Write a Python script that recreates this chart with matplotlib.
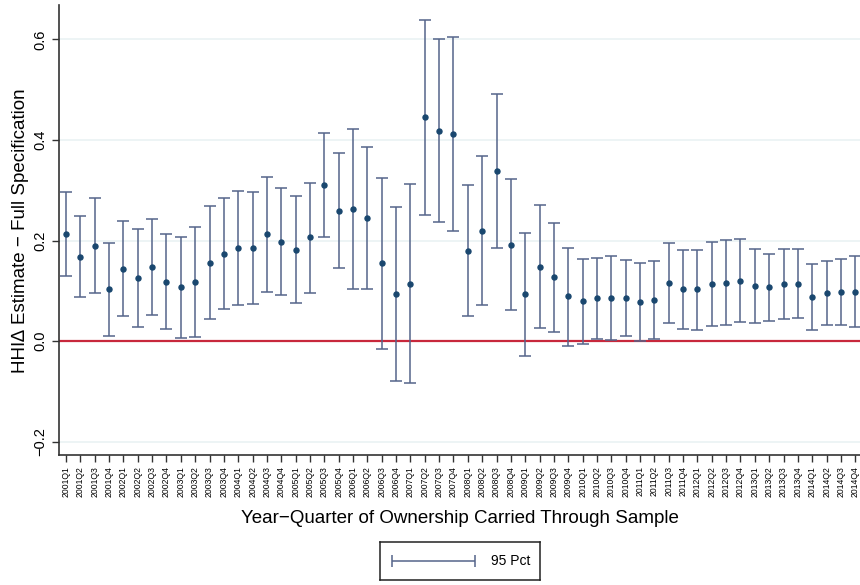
import matplotlib
matplotlib.use("Agg")
import matplotlib.pyplot as plt
import numpy as np

plt.rcParams["font.family"] = ["Liberation Sans", "DejaVu Sans"]

# quarter labels 2001Q1 .. 2014Q4
quarters = [f"{y}Q{q}" for y in range(2001, 2015) for q in range(1, 5)]

estimate = [0.213, 0.168, 0.190, 0.103, 0.144, 0.125, 0.147, 0.118,
            0.107, 0.117, 0.155, 0.174, 0.185, 0.185, 0.213, 0.198,
            0.181, 0.206, 0.310, 0.259, 0.262, 0.245, 0.156, 0.093,
            0.113, 0.445, 0.418, 0.411, 0.180, 0.219, 0.339, 0.192,
            0.093, 0.148, 0.127, 0.089, 0.080, 0.086, 0.086, 0.086,
            0.077, 0.082, 0.115, 0.103, 0.103, 0.113, 0.116, 0.120,
            0.110, 0.107, 0.114, 0.114, 0.088, 0.095, 0.097, 0.098]
upper = [0.296, 0.249, 0.285, 0.195, 0.238, 0.222, 0.243, 0.213,
         0.207, 0.226, 0.268, 0.285, 0.299, 0.297, 0.327, 0.304,
         0.288, 0.315, 0.413, 0.374, 0.421, 0.386, 0.325, 0.266,
         0.312, 0.638, 0.600, 0.604, 0.310, 0.368, 0.492, 0.322,
         0.214, 0.270, 0.235, 0.186, 0.164, 0.166, 0.170, 0.161,
         0.155, 0.159, 0.196, 0.182, 0.182, 0.197, 0.201, 0.202,
         0.183, 0.173, 0.183, 0.183, 0.153, 0.159, 0.163, 0.169]
lower = [0.130, 0.087, 0.096, 0.011, 0.050, 0.028, 0.052, 0.024,
         0.007, 0.009, 0.044, 0.063, 0.071, 0.073, 0.098, 0.091,
         0.075, 0.095, 0.206, 0.145, 0.104, 0.104, -0.015, -0.080,
         -0.084, 0.251, 0.237, 0.219, 0.050, 0.071, 0.186, 0.062,
         -0.029, 0.025, 0.018, -0.009, -0.005, 0.005, 0.002, 0.011,
         0.000, 0.005, 0.035, 0.023, 0.022, 0.030, 0.032, 0.037,
         0.036, 0.039, 0.044, 0.046, 0.022, 0.031, 0.032, 0.028]

bar_col = "#55658a"
dot_col = "#1a476f"

fig = plt.figure(figsize=(8.6, 5.85), dpi=100)
ax = fig.add_axes([0.0686, 0.222, 0.9314, 0.769])

x = np.arange(len(quarters))
est = np.array(estimate)
yerr = [est - np.array(lower), np.array(upper) - est]

for gy in [-0.2, 0.2, 0.4, 0.6]:
    ax.axhline(gy, color="#eaf2f3", lw=1.2, zorder=0)
ax.axhline(0, color="#c8283c", lw=1.6, zorder=1)

ax.errorbar(x, est, yerr=yerr, fmt="none", ecolor=bar_col, elinewidth=1.1,
            capsize=4, capthick=1.1, zorder=2)
ax.plot(x, est, "o", color=dot_col, ms=3.6, zorder=3)

ax.set_xlim(-0.49, 55.33)
ax.set_ylim(-0.227, 0.668)
ax.set_xticks(x)
ax.set_xticklabels(quarters, rotation=90, fontsize=6.2)
ax.set_yticks([-0.2, 0.0, 0.2, 0.4, 0.6])
ax.set_yticklabels(["\u22120.2", "0.0", "0.2", "0.4", "0.6"], fontsize=10.5)
for lab in ax.get_yticklabels():
    lab.set_rotation(90)
    lab.set_va("center")
ax.tick_params(axis="both", color="#333333", length=5, width=1)
ax.tick_params(axis="x", pad=3)

for s in ["top", "right"]:
    ax.spines[s].set_visible(False)
for s in ["left", "bottom"]:
    ax.spines[s].set_color("#333333")
    ax.spines[s].set_linewidth(1.2)

ax.set_ylabel("HHI\u2206 Estimate \u2212 Full Specification", fontsize=13.5, labelpad=3)
ax.set_xlabel("Year\u2212Quarter of Ownership Carried Through Sample", fontsize=13.5, labelpad=9)

# legend box below the plot
lax = fig.add_axes([0.4424, 0.009, 0.186, 0.064])
lax.set_xlim(0, 1)
lax.set_ylim(0, 1)
lax.set_xticks([])
lax.set_yticks([])
for s in lax.spines.values():
    s.set_color("#222222")
    s.set_linewidth(1.1)
lax.errorbar([0.334], [0.5], xerr=[[0.26], [0.26]], fmt="none", ecolor=bar_col,
             elinewidth=1.1, capsize=4, capthick=1.1)
lax.text(0.69, 0.5, "95 Pct", fontsize=10, va="center", ha="left")

fig.savefig("out.png", dpi=100)
